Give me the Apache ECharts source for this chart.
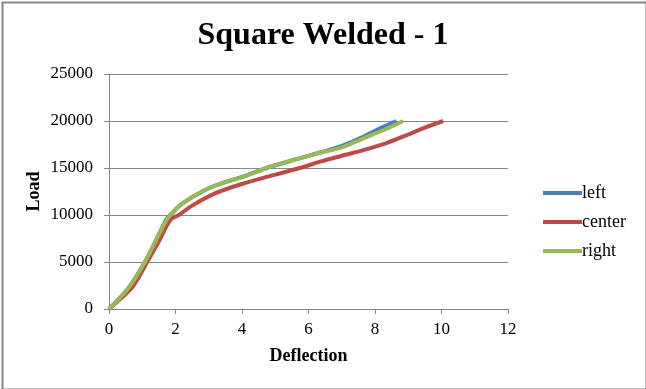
<!DOCTYPE html>
<html>
<head>
<meta charset="utf-8">
<script src="https://cdn.jsdelivr.net/npm/echarts@6/dist/echarts.min.js"></script>
<style>
html,body{margin:0;padding:0;background:#fff;}
#c{width:646px;height:389px;}
</style>
</head>
<body>
<div id="c"></div>
<script>
const titleText = 'Square Welded - 1';
const xName = 'Deflection';
const yName = 'Load';
const seriesNames = ['left', 'center', 'right'];

const leftData = [[0,0],[0.32,1150],[0.66,2600],[1.08,5000],[1.4,7200],[1.72,9500],[1.84,10000],[2.2,11200],[2.89,12660],[3.5,13500],[4.0,14050],[4.74,15000],[5.5,15800],[6.35,16650],[7.0,17350],[7.65,18330],[8.2,19300],[8.65,20000]];
const centerData = [[0,0],[0.35,1100],[0.72,2400],[1.15,5000],[1.5,7200],[1.85,9500],[2.1,10000],[2.5,11000],[3.19,12300],[4.0,13300],[5.0,14300],[5.74,15000],[6.35,15670],[7.0,16300],[7.65,16900],[8.3,17600],[8.95,18500],[9.5,19300],[10.05,20000]];
const rightData = [[0,0],[0.32,1150],[0.66,2600],[1.08,5000],[1.4,7200],[1.73,9500],[1.85,10000],[2.2,11200],[2.89,12660],[3.5,13500],[4.0,14000],[4.74,15000],[5.5,15800],[6.35,16630],[7.0,17200],[7.65,18160],[8.3,19100],[8.85,20000]];
const colors = ['#4a7ebb', '#be4b48', '#98b954'];

const font = '"Liberation Serif", "Times New Roman", serif';
const axisGray = '#868686';

const chart = echarts.init(document.getElementById('c'), null, {renderer: 'canvas'});
const datasets = [leftData, centerData, rightData];
chart.setOption({
  animation: false,
  backgroundColor: '#ffffff',
  graphic: [{
    type: 'rect', left: 0, top: 0,
    shape: {x: 1, y: 1, width: 644, height: 387},
    style: {fill: 'none', stroke: '#888888', lineWidth: 2}
  }],
  title: {
    text: titleText, left: 'center', top: 15,
    textStyle: {fontFamily: font, fontWeight: 'bold', fontSize: 32, color: '#000'}
  },
  grid: {left: 109, right: 138, top: 74, bottom: 80},
  legend: {
    orient: 'vertical', left: 538, top: 179,
    icon: 'rect', itemWidth: 39, itemHeight: 4, itemGap: 11,
    textStyle: {fontFamily: font, fontSize: 18, color: '#000', padding: [0,0,0,-5]},
    data: seriesNames
  },
  xAxis: {
    type: 'value', min: 0, max: 12, interval: 2,
    name: xName, nameLocation: 'middle', nameGap: 38,
    nameTextStyle: {fontFamily: font, fontWeight: 'bold', fontSize: 18, color: '#000'},
    axisLine: {show: true, lineStyle: {color: axisGray, width: 1}},
    axisTick: {show: true, length: 5, lineStyle: {color: axisGray}},
    axisLabel: {fontFamily: font, fontSize: 17, color: '#000', margin: 12},
    splitLine: {show: false}
  },
  yAxis: {
    type: 'value', min: 0, max: 25000, interval: 5000,
    name: yName, nameLocation: 'middle', nameGap: 66, nameRotate: 90,
    nameMoveOverlap: false,
    nameTextStyle: {fontFamily: font, fontWeight: 'bold', fontSize: 18, color: '#000'},
    axisLine: {show: true, lineStyle: {color: axisGray, width: 1}},
    axisTick: {show: true, length: 5, lineStyle: {color: axisGray}},
    axisLabel: {fontFamily: font, fontSize: 17, color: '#000', margin: 16,
      formatter: v => String(v)},
    splitLine: {show: true, lineStyle: {color: axisGray, width: 1}}
  },
  series: seriesNames.map((n, i) => ({
    name: n, type: 'line', data: datasets[i],
    smooth: 0.35, showSymbol: false, symbol: 'none',
    lineStyle: {color: colors[i], width: 4},
    itemStyle: {color: colors[i]}
  }))
});
</script>
</body>
</html>
